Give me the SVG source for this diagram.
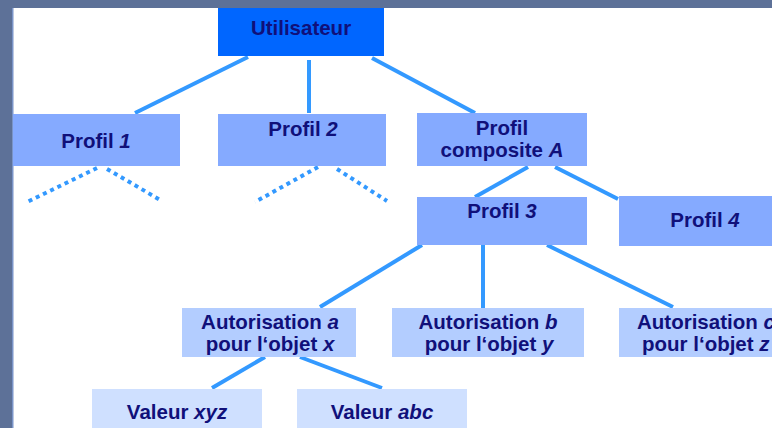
<svg xmlns="http://www.w3.org/2000/svg" width="772" height="428" viewBox="0 0 772 428">
<style>
.t{font-family:"Liberation Sans",Arial,sans-serif;font-weight:bold;font-size:20.5px;fill:#10107a;text-anchor:middle}
.i{font-style:italic}
.c{stroke:#3399ff;stroke-width:4;fill:none}
.d{stroke:#3399ff;stroke-width:4;fill:none;stroke-dasharray:4 4}
.lv1{fill:#0066ff}
.lv2{fill:#85aaff}
.lv3{fill:#b3cdff}
.lv4{fill:#cfe0ff}
</style>
<rect x="0" y="0" width="772" height="428" fill="#ffffff"/>
<rect x="0" y="0" width="772" height="8" fill="#5d7198"/>
<rect x="0" y="0" width="13" height="428" fill="#5d7198"/>
<rect x="12" y="8" width="1.5" height="420" fill="#7a94c8"/>
<g id="connectors">
<line class="c" x1="248" y1="57" x2="135" y2="113"/>
<line class="c" x1="309" y1="60" x2="309" y2="113"/>
<line class="c" x1="372" y1="58" x2="475" y2="113"/>
<line class="d" x1="97" y1="168" x2="27" y2="202"/>
<line class="d" x1="107" y1="169" x2="162" y2="201"/>
<line class="d" x1="318" y1="167" x2="255" y2="202"/>
<line class="d" x1="337" y1="169" x2="387" y2="201"/>
<line class="c" x1="528" y1="167" x2="475" y2="197"/>
<line class="c" x1="555" y1="167" x2="618" y2="199"/>
<line class="c" x1="422" y1="245" x2="320" y2="307"/>
<line class="c" x1="483" y1="245" x2="483" y2="308"/>
<line class="c" x1="547" y1="245" x2="673" y2="307"/>
<line class="c" x1="265" y1="357" x2="212" y2="388"/>
<line class="c" x1="300" y1="357" x2="382" y2="388"/>
</g>
<g id="utilisateur">
<rect class="lv1" x="218" y="8" width="166" height="48"/>
<text class="t" x="301" y="35">Utilisateur</text>
</g>
<g id="profil1">
<rect class="lv2" x="13" y="114" width="167" height="52"/>
<text class="t" x="96" y="148">Profil <tspan class="i">1</tspan></text>
</g>
<g id="profil2">
<rect class="lv2" x="218" y="114" width="168" height="52"/>
<text class="t" x="303" y="136">Profil <tspan class="i">2</tspan></text>
</g>
<g id="profilA">
<rect class="lv2" x="417" y="113" width="170" height="53"/>
<text class="t" x="502" y="135">Profil</text>
<text class="t" x="502" y="157">composite  <tspan class="i">A</tspan></text>
</g>
<g id="profil3">
<rect class="lv2" x="417" y="197" width="170" height="48"/>
<text class="t" x="502" y="218">Profil <tspan class="i">3</tspan></text>
</g>
<g id="profil4">
<rect class="lv2" x="619" y="196" width="160" height="50"/>
<text class="t" x="705" y="227">Profil <tspan class="i">4</tspan></text>
</g>
<g id="autorisationA">
<rect class="lv3" x="182" y="308" width="174" height="49"/>
<text class="t" x="270" y="329">Autorisation <tspan class="i">a</tspan></text>
<text class="t" x="270" y="351">pour l‘objet <tspan class="i">x</tspan></text>
</g>
<g id="autorisationB">
<rect class="lv3" x="392" y="308" width="192" height="49"/>
<text class="t" x="488" y="329">Autorisation <tspan class="i">b</tspan></text>
<text class="t" x="489" y="351">pour l‘objet <tspan class="i">y</tspan></text>
</g>
<g id="autorisationC">
<rect class="lv3" x="619" y="308" width="170" height="49"/>
<text class="t" x="637" y="329" text-anchor="start" style="text-anchor:start">Autorisation <tspan class="i">c</tspan></text>
<text class="t" x="642" y="351" style="text-anchor:start">pour l‘objet <tspan class="i">z</tspan></text>
</g>
<g id="valeurXYZ">
<rect class="lv4" x="92" y="389" width="170" height="45"/>
<text class="t" x="177" y="419">Valeur <tspan class="i">xyz</tspan></text>
</g>
<g id="valeurABC">
<rect class="lv4" x="297" y="389" width="170" height="45"/>
<text class="t" x="382" y="419">Valeur <tspan class="i">abc</tspan></text>
</g>
</svg>
